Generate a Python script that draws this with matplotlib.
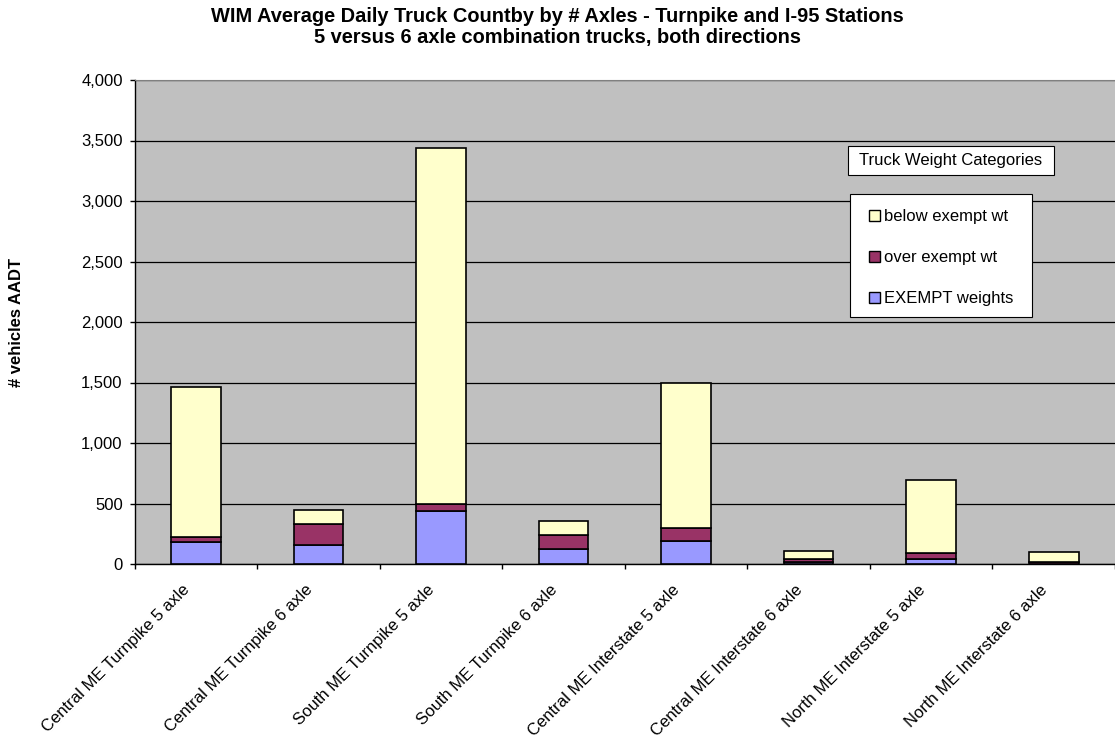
import matplotlib
matplotlib.use("Agg")
import matplotlib.pyplot as plt
import matplotlib.transforms as mtransforms
import numpy as np
from matplotlib.patches import Patch, Rectangle
from matplotlib.ticker import FuncFormatter, FixedLocator

plt.rcParams['font.family'] = ['Liberation Sans', 'DejaVu Sans']

categories = ["Central ME Turnpike 5 axle", "Central ME Turnpike 6 axle",
              "South ME Turnpike 5 axle", "South ME Turnpike 6 axle",
              "Central ME Interstate 5 axle", "Central ME Interstate 6 axle",
              "North ME Interstate 5 axle", "North ME Interstate 6 axle"]
exempt = [179, 157, 441, 124, 190, 20, 40, 4]
over_exempt = [41, 171, 57, 116, 107, 19, 50, 14]
below_exempt = [1240, 116, 2940, 118, 1196, 71, 601, 84]
series_names = ["EXEMPT weights", "over exempt wt", "below exempt wt"]
colors = ["#9999FF", "#993366", "#FFFFCC"]

W, H = 1115, 738
fig = plt.figure(figsize=(W/100, H/100), dpi=100)
ax = fig.add_axes([134.6/W, 1-564/H, 1-134.6/W, (564-80)/H])
ax.set_facecolor("#C0C0C0")

x = np.arange(len(categories))
bottom = np.zeros(len(categories))
handles = []
for vals, name, c in zip([exempt, over_exempt, below_exempt], series_names, colors):
    ax.bar(x, vals, width=0.405, bottom=bottom, color=c, edgecolor="black", linewidth=1.2, zorder=3)
    bottom += np.array(vals)
    handles.append(Patch(facecolor=c, edgecolor="black", linewidth=1.0, label=name))

ax.set_xlim(-0.5, len(categories) - 0.5)
ax.set_ylim(0, 4000)
ax.set_yticks(np.arange(0, 4001, 500))
ax.yaxis.set_major_formatter(FuncFormatter(lambda v, p: f"{int(v):,}"))
ax.grid(axis="y", color="black", linewidth=0.9, zorder=1)
ax.set_axisbelow(True)

ax.set_xticks(x)
ax.set_xticklabels(categories, rotation=45, ha="right", va="top", rotation_mode="anchor", fontsize=12)
ax.tick_params(axis="x", which="major", length=0, pad=13)
offset = mtransforms.ScaledTranslation(-14/100, 0, fig.dpi_scale_trans)
for lbl in ax.get_xticklabels():
    lbl.set_transform(lbl.get_transform() + offset)
ax.xaxis.set_minor_locator(FixedLocator(np.arange(-0.5, len(categories), 1.0)))
ax.tick_params(axis="x", which="minor", length=3.6, width=1, direction="out")
ax.tick_params(axis="y", length=3.6, width=1, direction="out", labelsize=12, pad=5)

for s in ["left", "bottom"]:
    ax.spines[s].set_color("black")
    ax.spines[s].set_linewidth(1.0)
ax.spines["top"].set_color("#808080")
ax.spines["right"].set_visible(False)

fig.text(0.5, 1-16/H, "WIM Average Daily Truck Countby by # Axles - Turnpike and I-95 Stations",
         ha="center", va="center", fontsize=14.4, fontweight="bold")
fig.text(0.5, 1-38/H, "5 versus 6 axle combination trucks, both directions",
         ha="center", va="center", fontsize=14.4, fontweight="bold")

fig.text(17/W, 1-322/H, "# vehicles AADT", rotation=90, ha="center", va="center",
         fontsize=12, fontweight="bold")

# legend title box
fig.add_artist(Rectangle((848/W, 1-175/H), (1054-848)/W, (175-146)/H, transform=fig.transFigure,
                         facecolor="white", edgecolor="black", linewidth=0.8, zorder=5))
fig.text(951/W, 1-160.5/H, "Truck Weight Categories", ha="center", va="center", fontsize=12, zorder=6)

# legend box
fig.add_artist(Rectangle((850/W, 1-317/H), (1032-850)/W, (317-194)/H, transform=fig.transFigure,
                         facecolor="white", edgecolor="black", linewidth=0.8, zorder=5))
leg = fig.legend(handles=handles[::-1], loc="upper left",
                 bbox_to_anchor=(869/W, 1-209/H), bbox_transform=fig.transFigure,
                 borderaxespad=0, borderpad=0, fontsize=12, frameon=False,
                 handlelength=0.66, handleheight=0.66, handletextpad=0.25,
                 labelspacing=1.56)
leg.set_zorder(7)

fig.savefig("out.png", dpi=100)
